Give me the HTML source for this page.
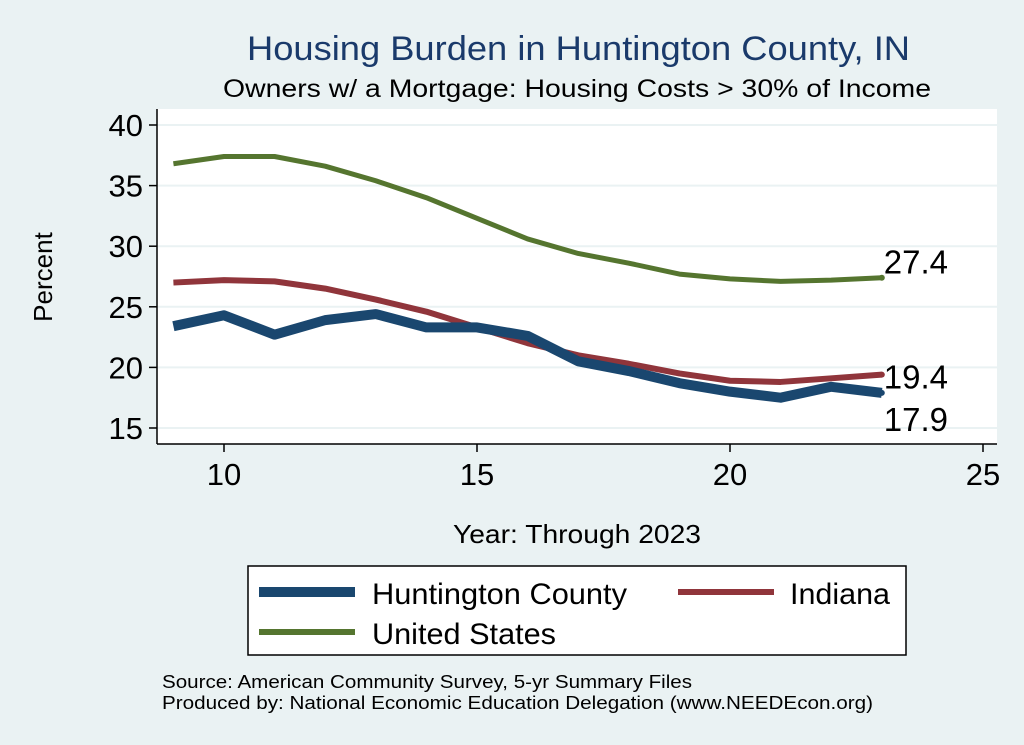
<!DOCTYPE html>
<html><head><meta charset="utf-8"><style>
body{margin:0;background:#eaf2f3;}
svg{display:block;font-family:"Liberation Sans",Arial,sans-serif;}
</style></head><body>
<svg id="chart" width="1024" height="745" viewBox="0 0 1024 745">
<rect x="0" y="0" width="1024" height="745" fill="#eaf2f3"/>
<text x="247" y="60" font-size="34" fill="#1a3a6b" textLength="663" lengthAdjust="spacingAndGlyphs">Housing Burden in Huntington County, IN</text>
<text x="223" y="97" font-size="25" fill="#000" textLength="708" lengthAdjust="spacingAndGlyphs">Owners w/ a Mortgage: Housing Costs &gt; 30% of Income</text>
<rect x="157" y="109" width="840" height="335" fill="#fff"/>
<g id="grid"></g>
<g id="series"></g>
<line x1="157" y1="109" x2="157" y2="444" stroke="#000" stroke-width="1.5"/>
<line x1="157" y1="444" x2="997" y2="444" stroke="#000" stroke-width="1.5"/>
<g id="ticks"></g>
<text x="52" y="277" font-size="26" text-anchor="middle" transform="rotate(-90 52 277)">Percent</text>
<text x="453" y="543" font-size="26" textLength="248" lengthAdjust="spacingAndGlyphs">Year: Through 2023</text>
<g>
<rect x="248" y="566" width="658" height="89" fill="#fff" stroke="#000" stroke-width="1.5"/>
<line x1="259" y1="592" x2="355" y2="592" stroke="#1a476f" stroke-width="10"/>
<text x="372" y="604" font-size="30" textLength="255" lengthAdjust="spacingAndGlyphs">Huntington County</text>
<line x1="678" y1="592" x2="774" y2="592" stroke="#90353b" stroke-width="6"/>
<text x="790" y="604" font-size="30" textLength="100" lengthAdjust="spacingAndGlyphs">Indiana</text>
<line x1="259" y1="632" x2="355" y2="632" stroke="#55752f" stroke-width="6"/>
<text x="372" y="644" font-size="30" textLength="184" lengthAdjust="spacingAndGlyphs">United States</text>
</g>
<text x="162" y="688" font-size="18" textLength="530" lengthAdjust="spacingAndGlyphs">Source: American Community Survey, 5-yr Summary Files</text>
<text x="162" y="709" font-size="18" textLength="711" lengthAdjust="spacingAndGlyphs">Produced by: National Economic Education Delegation (www.NEEDEcon.org)</text>
</svg>
<script>
const years=[9,10,11,12,13,14,15,16,17,18,19,20,21,22,23];
const huntington=[23.4,24.3,22.7,23.9,24.4,23.3,23.3,22.6,20.5,19.7,18.7,18.0,17.5,18.4,17.9];
const indiana=[27.0,27.2,27.1,26.5,25.6,24.6,23.3,22.0,21.0,20.3,19.5,18.9,18.8,19.1,19.4];
const unitedStates=[36.8,37.4,37.4,36.6,35.4,34.0,32.3,30.6,29.4,28.6,27.7,27.3,27.1,27.2,27.4];
const yTicks=[15,20,25,30,35,40];
const xTicks=[10,15,20,25];
const NS="http://www.w3.org/2000/svg";
function X(v){return 224+(v-10)*50.6;}
function Y(v){return 428-(v-15)*12.12;}
function mk(tag,attrs,parent){const e=document.createElementNS(NS,tag);for(const k in attrs)e.setAttribute(k,attrs[k]);parent.appendChild(e);return e;}
const grid=document.getElementById('grid'),ticks=document.getElementById('ticks'),ser=document.getElementById('series');
yTicks.forEach(v=>{
 const g=mk('line',{x1:157,x2:997,y1:Y(v),y2:Y(v),stroke:'#eaf2f3','stroke-width':2},grid);
 
 
 const t=mk('line',{x1:149,x2:157,y1:Y(v),y2:Y(v),stroke:'#000','stroke-width':1.5},ticks);
 
 
 const l=mk('text',{x:143,y:Y(v)+11,'font-size':31,'text-anchor':'end'},ticks);l.textContent=v;
 
 
});
xTicks.forEach(v=>{
 const t=mk('line',{x1:X(v),x2:X(v),y1:444,y2:452,stroke:'#000','stroke-width':1.5},ticks);
 
 
 const l=mk('text',{x:X(v),y:485,'font-size':31,'text-anchor':'middle'},ticks);l.textContent=v;
 
 
});
function drawLine(vals,color,w,name,labelDy){
 const p=mk('polyline',{points:vals.map((v,i)=>X(years[i])+','+Y(v)).join(' '),fill:'none',stroke:color,'stroke-width':w,'stroke-linejoin':'round'},ser);
 
 
 const n=vals.length-1;
 const c=mk('circle',{cx:X(years[n]),cy:Y(vals[n]),r:3,fill:color},ser);
 
 
 const t=mk('text',{x:X(years[n])+2,y:Y(vals[n])+labelDy,'font-size':33},ser);t.textContent=vals[n].toFixed(1);
 
 
}
drawLine(unitedStates,'#55752f',5,'united-states',-4);
drawLine(indiana,'#90353b',6,'indiana',14);
drawLine(huntington,'#1a476f',10,'huntington-county',38);
</script>
</body></html>
